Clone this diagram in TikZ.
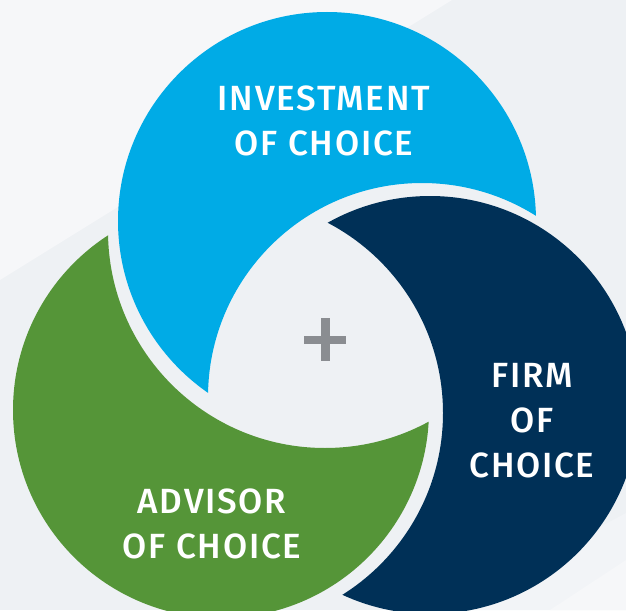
\documentclass[tikz,border=0pt]{standalone}
\usepackage{fontspec}
\setmainfont{Fira Sans}[UprightFont={* Medium},LetterSpace=5]
\definecolor{bgmain}{HTML}{EEF1F4}
\definecolor{bglight}{HTML}{F6F7F9}
\definecolor{bgmid}{HTML}{F2F4F7}
\definecolor{cblue}{HTML}{00ABE6}
\definecolor{cnavy}{HTML}{003057}
\definecolor{cgreen}{HTML}{559538}
\definecolor{cplus}{HTML}{8A8D91}
\tikzset{
  lbl/.style={text=white, align=center, inner sep=0pt,
    font=\fontsize{35}{45}\selectfont}
}
\begin{document}
\begin{tikzpicture}[x=1pt,y=-1pt]
\useasboundingbox (0,0) rectangle (626,610);
% background
\fill[bgmain] (0,0) rectangle (626,610);
\fill[bglight] (0,0) -- (452,0) -- (0,280) -- cycle;
\fill[bgmid] (446,610) -- (626,513) -- (626,610) -- cycle;
\fill[bglight] (550,610) -- (626,560) -- (626,610) -- cycle;
% blue crescent
\begin{scope}
  \clip (327,221) circle[radius=209pt];
  \fill[cblue, even odd rule] (-100,-100) rectangle (800,800) (422,397) circle[radius=214pt];
\end{scope}
% navy crescent
\begin{scope}
  \clip (430,405) circle[radius=209pt];
  \fill[cnavy, even odd rule] (-100,-100) rectangle (800,800) (228.5,413) circle[radius=214.5pt];
\end{scope}
% green crescent
\begin{scope}
  \clip (221,410) circle[radius=208pt];
  \fill[cgreen, even odd rule] (-100,-100) rectangle (800,800) (325,231) circle[radius=217pt];
\end{scope}
% plus sign
\fill[cplus] (321,318) rectangle (329.5,361);
\fill[cplus] (304,335.5) rectangle (346,344);
% labels
\node[lbl] (inv) at (324,121) {INVESTMENT\\OF CHOICE};
\node[lbl] (adv) at (212,524) {ADVISOR\\OF CHOICE};
\node[lbl] (firm) at (532,421) {FIRM\\OF\\CHOICE};
\end{tikzpicture}
\end{document}
